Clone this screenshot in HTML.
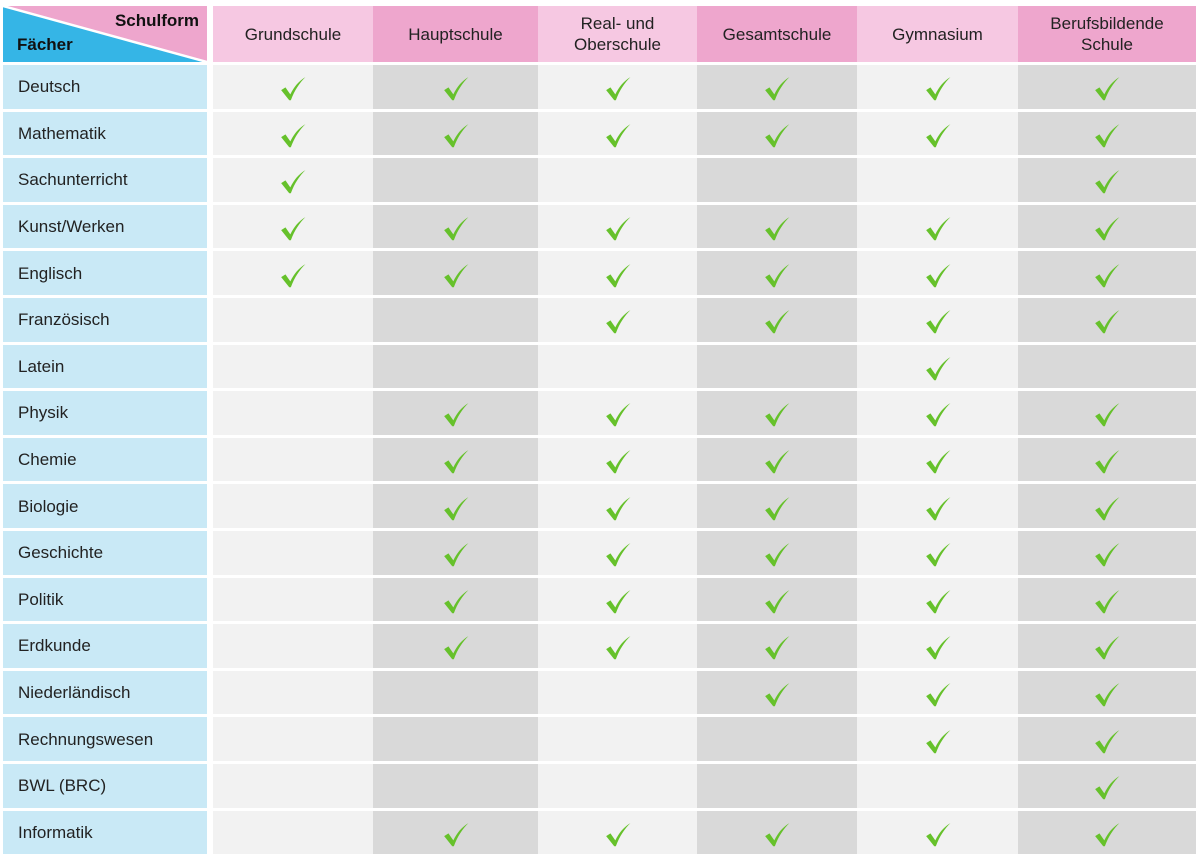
<!DOCTYPE html>
<html><head><meta charset="utf-8"><style>
body{margin:0;width:1200px;height:862px;background:#fff;font-family:"Liberation Sans",Arial,sans-serif;overflow:hidden}
.g{position:absolute;left:3px;top:6px;display:grid;grid-template-columns:204px 6px 160px 165px 159px 160px 161px 178px;grid-template-rows:56px repeat(17,43.6px);row-gap:3px}
.g>div{display:flex;align-items:center;justify-content:center;font-size:17px;color:#222;text-align:center;line-height:21px}
.f{background:#c9e9f6;justify-content:flex-start!important;padding-left:15px}
.s{background:#fff}
.l{background:#f2f2f2}.d{background:#d9d9d9}
.hl{background:#f6c8e2}.hd{background:#eea6cd}
.corner{position:relative;padding:0!important}
svg.ck{width:28px;height:28px;margin-top:5px}
</style></head><body>
<svg width="0" height="0" style="position:absolute"><defs><symbol id="k" viewBox="0 0 26 26"><path d="M2 14 L6 11.5 L10.5 18 C14 11 18 6 24.5 2 C19 7.5 14.5 14 11 23.5 L9.5 23.5 Z" fill="#66c12b"/></symbol></defs></svg>
<div class="g">
<div class="corner"><svg width="204" height="56" style="position:absolute;left:0;top:0"><polygon points="0,0 204,0 204,56" fill="#eea6cd"/><polygon points="0,0 204,56 0,56" fill="#35b5e6"/><line x1="0" y1="0" x2="204" y2="56" stroke="#fff" stroke-width="2.5"/><text x="196" y="20" text-anchor="end" font-size="17" font-weight="bold" fill="#111" font-family="Liberation Sans,sans-serif">Schulform</text><text x="14" y="44" font-size="17" font-weight="bold" fill="#111" font-family="Liberation Sans,sans-serif">Fächer</text></svg></div>
<div class="s"></div>
<div class="hl">Grundschule</div><div class="hd">Hauptschule</div><div class="hl">Real- und<br>Oberschule</div><div class="hd">Gesamtschule</div><div class="hl">Gymnasium</div><div class="hd">Berufsbildende<br>Schule</div>

<div class="f">Deutsch</div><div class="s"></div><div class="l"><svg class="ck"><use href="#k"/></svg></div><div class="d"><svg class="ck"><use href="#k"/></svg></div><div class="l"><svg class="ck"><use href="#k"/></svg></div><div class="d"><svg class="ck"><use href="#k"/></svg></div><div class="l"><svg class="ck"><use href="#k"/></svg></div><div class="d"><svg class="ck"><use href="#k"/></svg></div>
<div class="f">Mathematik</div><div class="s"></div><div class="l"><svg class="ck"><use href="#k"/></svg></div><div class="d"><svg class="ck"><use href="#k"/></svg></div><div class="l"><svg class="ck"><use href="#k"/></svg></div><div class="d"><svg class="ck"><use href="#k"/></svg></div><div class="l"><svg class="ck"><use href="#k"/></svg></div><div class="d"><svg class="ck"><use href="#k"/></svg></div>
<div class="f">Sachunterricht</div><div class="s"></div><div class="l"><svg class="ck"><use href="#k"/></svg></div><div class="d"></div><div class="l"></div><div class="d"></div><div class="l"></div><div class="d"><svg class="ck"><use href="#k"/></svg></div>
<div class="f">Kunst/Werken</div><div class="s"></div><div class="l"><svg class="ck"><use href="#k"/></svg></div><div class="d"><svg class="ck"><use href="#k"/></svg></div><div class="l"><svg class="ck"><use href="#k"/></svg></div><div class="d"><svg class="ck"><use href="#k"/></svg></div><div class="l"><svg class="ck"><use href="#k"/></svg></div><div class="d"><svg class="ck"><use href="#k"/></svg></div>
<div class="f">Englisch</div><div class="s"></div><div class="l"><svg class="ck"><use href="#k"/></svg></div><div class="d"><svg class="ck"><use href="#k"/></svg></div><div class="l"><svg class="ck"><use href="#k"/></svg></div><div class="d"><svg class="ck"><use href="#k"/></svg></div><div class="l"><svg class="ck"><use href="#k"/></svg></div><div class="d"><svg class="ck"><use href="#k"/></svg></div>
<div class="f">Französisch</div><div class="s"></div><div class="l"></div><div class="d"></div><div class="l"><svg class="ck"><use href="#k"/></svg></div><div class="d"><svg class="ck"><use href="#k"/></svg></div><div class="l"><svg class="ck"><use href="#k"/></svg></div><div class="d"><svg class="ck"><use href="#k"/></svg></div>
<div class="f">Latein</div><div class="s"></div><div class="l"></div><div class="d"></div><div class="l"></div><div class="d"></div><div class="l"><svg class="ck"><use href="#k"/></svg></div><div class="d"></div>
<div class="f">Physik</div><div class="s"></div><div class="l"></div><div class="d"><svg class="ck"><use href="#k"/></svg></div><div class="l"><svg class="ck"><use href="#k"/></svg></div><div class="d"><svg class="ck"><use href="#k"/></svg></div><div class="l"><svg class="ck"><use href="#k"/></svg></div><div class="d"><svg class="ck"><use href="#k"/></svg></div>
<div class="f">Chemie</div><div class="s"></div><div class="l"></div><div class="d"><svg class="ck"><use href="#k"/></svg></div><div class="l"><svg class="ck"><use href="#k"/></svg></div><div class="d"><svg class="ck"><use href="#k"/></svg></div><div class="l"><svg class="ck"><use href="#k"/></svg></div><div class="d"><svg class="ck"><use href="#k"/></svg></div>
<div class="f">Biologie</div><div class="s"></div><div class="l"></div><div class="d"><svg class="ck"><use href="#k"/></svg></div><div class="l"><svg class="ck"><use href="#k"/></svg></div><div class="d"><svg class="ck"><use href="#k"/></svg></div><div class="l"><svg class="ck"><use href="#k"/></svg></div><div class="d"><svg class="ck"><use href="#k"/></svg></div>
<div class="f">Geschichte</div><div class="s"></div><div class="l"></div><div class="d"><svg class="ck"><use href="#k"/></svg></div><div class="l"><svg class="ck"><use href="#k"/></svg></div><div class="d"><svg class="ck"><use href="#k"/></svg></div><div class="l"><svg class="ck"><use href="#k"/></svg></div><div class="d"><svg class="ck"><use href="#k"/></svg></div>
<div class="f">Politik</div><div class="s"></div><div class="l"></div><div class="d"><svg class="ck"><use href="#k"/></svg></div><div class="l"><svg class="ck"><use href="#k"/></svg></div><div class="d"><svg class="ck"><use href="#k"/></svg></div><div class="l"><svg class="ck"><use href="#k"/></svg></div><div class="d"><svg class="ck"><use href="#k"/></svg></div>
<div class="f">Erdkunde</div><div class="s"></div><div class="l"></div><div class="d"><svg class="ck"><use href="#k"/></svg></div><div class="l"><svg class="ck"><use href="#k"/></svg></div><div class="d"><svg class="ck"><use href="#k"/></svg></div><div class="l"><svg class="ck"><use href="#k"/></svg></div><div class="d"><svg class="ck"><use href="#k"/></svg></div>
<div class="f">Niederländisch</div><div class="s"></div><div class="l"></div><div class="d"></div><div class="l"></div><div class="d"><svg class="ck"><use href="#k"/></svg></div><div class="l"><svg class="ck"><use href="#k"/></svg></div><div class="d"><svg class="ck"><use href="#k"/></svg></div>
<div class="f">Rechnungswesen</div><div class="s"></div><div class="l"></div><div class="d"></div><div class="l"></div><div class="d"></div><div class="l"><svg class="ck"><use href="#k"/></svg></div><div class="d"><svg class="ck"><use href="#k"/></svg></div>
<div class="f">BWL (BRC)</div><div class="s"></div><div class="l"></div><div class="d"></div><div class="l"></div><div class="d"></div><div class="l"></div><div class="d"><svg class="ck"><use href="#k"/></svg></div>
<div class="f">Informatik</div><div class="s"></div><div class="l"></div><div class="d"><svg class="ck"><use href="#k"/></svg></div><div class="l"><svg class="ck"><use href="#k"/></svg></div><div class="d"><svg class="ck"><use href="#k"/></svg></div><div class="l"><svg class="ck"><use href="#k"/></svg></div><div class="d"><svg class="ck"><use href="#k"/></svg></div>
</div>
</body></html>
